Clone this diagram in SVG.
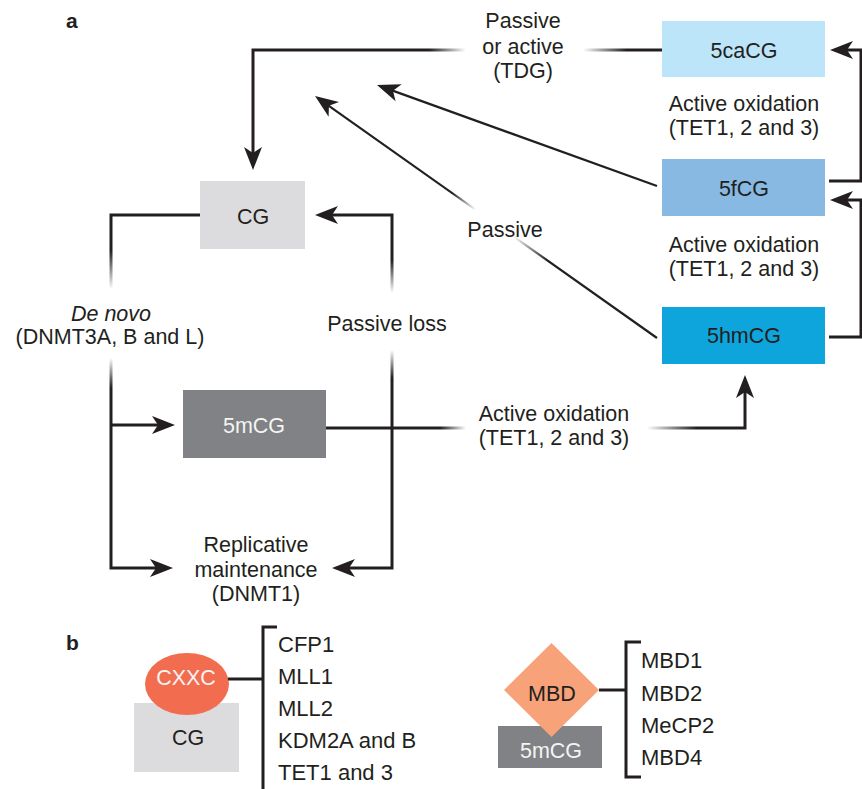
<svg xmlns="http://www.w3.org/2000/svg" width="862" height="789" viewBox="0 0 862 789">
  <style>
    text { font-family: "Liberation Sans", Arial, sans-serif; fill: #231f20; font-size: 21.5px; }
    .c { text-anchor: middle; }
    .w { fill: #f4f4f4; }
    .lbl { font-size: 21px; font-weight: bold; }
    .lst { font-size: 22px; }
    .ln { fill: none; stroke: #231f20; stroke-width: 3; }
    .thin { fill: none; stroke: #231f20; stroke-width: 2.2; }
  </style>
  <defs>
    <marker id="ah" viewBox="-14 -10 26 20" refX="0" refY="0" markerWidth="26" markerHeight="20" markerUnits="userSpaceOnUse" orient="auto-start-reverse">
      <path d="M10,0 L-13,-9 L-7,0 L-13,9 Z" fill="#231f20"/>
    </marker>
    <!-- fades where labels interrupt the lines -->
    <linearGradient id="gTop" gradientUnits="userSpaceOnUse" x1="253" y1="0" x2="662" y2="0">
      <stop offset="0.43" stop-color="#231f20"/>
      <stop offset="0.52" stop-color="#231f20" stop-opacity="0"/>
      <stop offset="0.807" stop-color="#231f20" stop-opacity="0"/>
      <stop offset="0.914" stop-color="#231f20"/>
    </linearGradient>
    <linearGradient id="gLeft" gradientUnits="userSpaceOnUse" x1="0" y1="215" x2="0" y2="568">
      <stop offset="0.10" stop-color="#231f20"/>
      <stop offset="0.21" stop-color="#231f20" stop-opacity="0"/>
      <stop offset="0.405" stop-color="#231f20" stop-opacity="0"/>
      <stop offset="0.49" stop-color="#231f20"/>
    </linearGradient>
    <linearGradient id="gRight" gradientUnits="userSpaceOnUse" x1="0" y1="215" x2="0" y2="568">
      <stop offset="0.127" stop-color="#231f20"/>
      <stop offset="0.221" stop-color="#231f20" stop-opacity="0"/>
      <stop offset="0.382" stop-color="#231f20" stop-opacity="0"/>
      <stop offset="0.462" stop-color="#231f20"/>
    </linearGradient>
    <linearGradient id="gOx" gradientUnits="userSpaceOnUse" x1="326" y1="0" x2="745" y2="0">
      <stop offset="0.272" stop-color="#231f20"/>
      <stop offset="0.334" stop-color="#231f20" stop-opacity="0"/>
      <stop offset="0.766" stop-color="#231f20" stop-opacity="0"/>
      <stop offset="0.885" stop-color="#231f20"/>
    </linearGradient>
    <linearGradient id="gPas" gradientUnits="userSpaceOnUse" x1="315" y1="96" x2="657" y2="338">
      <stop offset="0.40" stop-color="#231f20"/>
      <stop offset="0.47" stop-color="#231f20" stop-opacity="0"/>
      <stop offset="0.58" stop-color="#231f20" stop-opacity="0"/>
      <stop offset="0.68" stop-color="#231f20"/>
    </linearGradient>
  </defs>

  <!-- panel a -->
  <text class="lbl" x="66" y="28">a</text>

  <g id="connectors">
    <path class="ln" d="M662,50 H253 V160" style="stroke:url(#gTop)" marker-end="url(#ah)"/>
    <path class="ln" d="M200,215 H111 V568 H163" style="stroke:url(#gLeft)" marker-end="url(#ah)"/>
    <path class="ln" d="M111,425 H165" marker-end="url(#ah)"/>
    <path class="ln" d="M325,215 H392 V568 H342" style="stroke:url(#gRight)" marker-start="url(#ah)" marker-end="url(#ah)"/>
    <path class="ln" d="M326,428 H745 V385" style="stroke:url(#gOx)" marker-end="url(#ah)"/>
    <path class="thin" d="M657,186 L386.4,88.4" marker-end="url(#ah)"/>
    <path class="thin" d="M657,338 L323.2,101.8" style="stroke:url(#gPas)" marker-end="url(#ah)"/>
    <path class="ln" d="M829,181 H861 V50 H840" marker-end="url(#ah)"/>
    <path class="ln" d="M829,337 H861 V200 H840" marker-end="url(#ah)"/>
  </g>

  <g id="edge-labels">
    <text class="c" x="523" y="28">Passive</text>
    <text class="c" x="523" y="54">or active</text>
    <text class="c" x="523" y="78">(TDG)</text>
    <text class="c" x="744" y="111">Active oxidation</text>
    <text class="c" x="744" y="135">(TET1, 2 and 3)</text>
    <text class="c" x="744" y="252">Active oxidation</text>
    <text class="c" x="744" y="276">(TET1, 2 and 3)</text>
    <text class="c" x="505" y="237">Passive</text>
    <text class="c" x="111" y="321" font-style="italic">De novo</text>
    <text class="c" x="110" y="344">(DNMT3A, B and L)</text>
    <text class="c" x="387" y="331">Passive loss</text>
    <text class="c" x="554" y="421">Active oxidation</text>
    <text class="c" x="554" y="445">(TET1, 2 and 3)</text>
  </g>

  <g id="node-cg">
    <rect x="200" y="181" width="105" height="68" fill="#dcdcdf"/>
    <text class="c" x="253" y="224">CG</text>
  </g>
  <g id="node-5mcg">
    <rect x="183" y="390" width="143" height="68" fill="#808285"/>
    <text class="c w" x="254" y="433">5mCG</text>
  </g>
  <g id="node-maintenance">
    <text class="c" x="256" y="552">Replicative</text>
    <text class="c" x="256" y="577">maintenance</text>
    <text class="c" x="256" y="601">(DNMT1)</text>
  </g>
  <g id="node-5cacg">
    <rect x="662" y="21" width="163" height="56" fill="#bde5f9"/>
    <text class="c" x="744" y="58">5caCG</text>
  </g>
  <g id="node-5fcg">
    <rect x="662" y="159" width="163" height="57" fill="#88b9e2"/>
    <text class="c" x="744" y="196">5fCG</text>
  </g>
  <g id="node-5hmcg">
    <rect x="662" y="307" width="163" height="57" fill="#0ea5dc"/>
    <text class="c" x="744" y="343">5hmCG</text>
  </g>

  <!-- panel b -->
  <text class="lbl" x="66" y="650">b</text>

  <g id="cxxc-binding">
    <rect x="134" y="703" width="105" height="69" fill="#dcdcdf"/>
    <text class="c" x="188" y="745">CG</text>
    <ellipse cx="187" cy="684" rx="42" ry="31" fill="#f26d4f"/>
    <text class="c w" x="186" y="685" font-size="19.5">CXXC</text>
    <path class="ln" d="M228,679 H263 M277,627 H263 V789"/>
    <text class="lst" x="278" y="652">CFP1</text>
    <text class="lst" x="278" y="684">MLL1</text>
    <text class="lst" x="278" y="716">MLL2</text>
    <text class="lst" x="278" y="748">KDM2A and B</text>
    <text class="lst" x="278" y="780">TET1 and 3</text>
  </g>

  <g id="mbd-binding">
    <rect x="498" y="726" width="104" height="42" fill="#808285"/>
    <text class="c w" x="551" y="758">5mCG</text>
    <polygon points="551.5,643 599,690 551.5,737 504,690" fill="#f8a27a"/>
    <text class="c" x="552" y="701" font-size="22px">MBD</text>
    <path class="ln" d="M599,690 H626 M641,642 H626 V777 H641"/>
    <text class="lst" x="641" y="668">MBD1</text>
    <text class="lst" x="641" y="701">MBD2</text>
    <text class="lst" x="641" y="733">MeCP2</text>
    <text class="lst" x="641" y="765">MBD4</text>
  </g>
</svg>
